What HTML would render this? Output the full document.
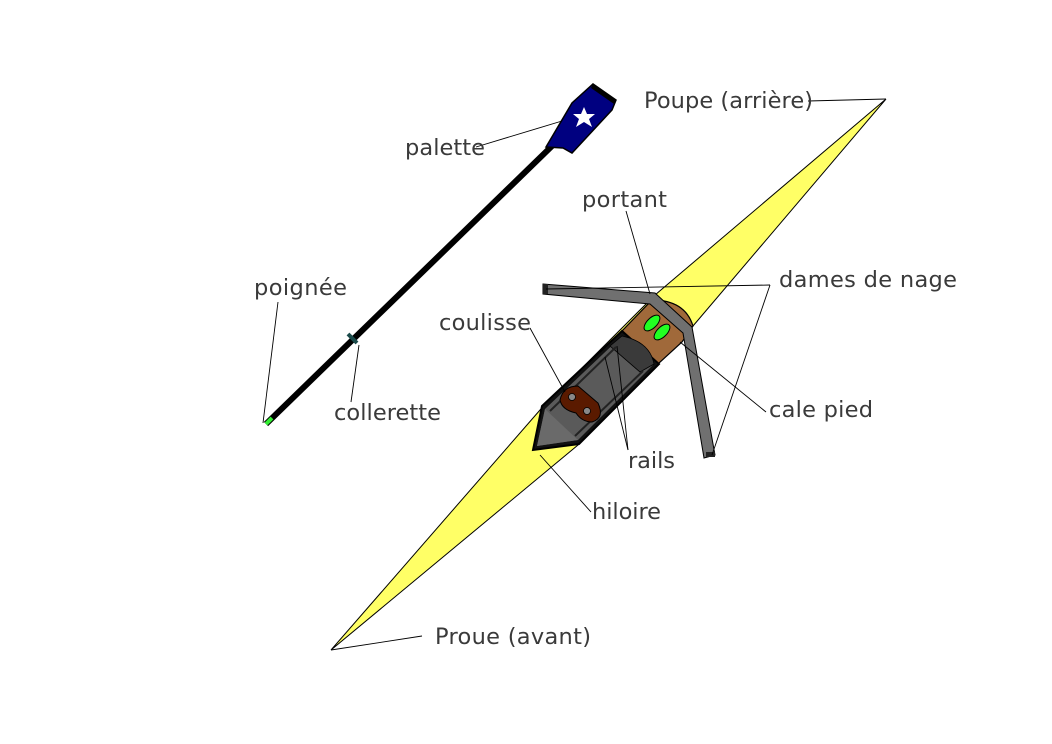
<!DOCTYPE html>
<html><head><meta charset="utf-8"><style>
html,body{margin:0;padding:0;background:#fff;}
svg{display:block}
text{font-family:"DejaVu Sans","Liberation Sans",sans-serif;font-size:22.5px;fill:#3a3a3a}
</style></head><body>
<svg width="1052" height="744" viewBox="0 0 1052 744" xmlns="http://www.w3.org/2000/svg">
<!-- hull -->
<polygon points="886,99 693,326 578,445 331,650 540,410 655,295" fill="#ffff66" stroke="#000" stroke-width="1"/>
<!-- brown deck -->
<path d="M620,333 L652,300 Q685,300 693,326 L682,342 L658,364 Z" fill="#a0693a" stroke="#000" stroke-width="1.2"/>
<!-- cockpit coaming -->
<polygon points="533,450 542,406 622,331 659,364 579,444" fill="#111" stroke="#000" stroke-width="2"/>
<polygon points="537,446 545,409 622,336 654,364 578,440" fill="#5a5a5a"/>
<polygon points="537,446 545,409 578,440" fill="#6a6a6a"/>
<path d="M622,336 Q650,342 654,364 L640,372 L610,346 Z" fill="#3a3a3a" stroke="#000" stroke-width="0.8"/>
<line x1="550" y1="411" x2="616" y2="347" stroke="#222" stroke-width="2"/>
<line x1="575" y1="436" x2="643" y2="371" stroke="#222" stroke-width="2"/>
<!-- seat -->
<path d="M560,400 Q563,386 578,386 L598,403 Q605,418 592,422 Q582,422 576,413 Q562,410 560,400 Z" fill="#5a1a00" stroke="#000" stroke-width="1"/>
<circle cx="572" cy="397" r="3.5" fill="#888" stroke="#000" stroke-width="0.8"/>
<circle cx="587" cy="411" r="3.5" fill="#888" stroke="#000" stroke-width="0.8"/>
<!-- shoes -->
<g transform="rotate(-45 652 323)"><ellipse cx="652" cy="323" rx="10" ry="5" fill="#22ff22" stroke="#000" stroke-width="1"/></g>
<g transform="rotate(-45 662 332)"><ellipse cx="662" cy="332" rx="10" ry="5" fill="#22ff22" stroke="#000" stroke-width="1"/></g>
<!-- rigger -->
<path d="M543,284 L655,293 L692,327 L715,455 L704,458 L683,333 L650,304 L543,294 Z" fill="#707070" stroke="#000" stroke-width="1"/>
<rect x="543" y="284" width="5" height="10" fill="#222"/>
<rect x="706" y="452" width="9" height="5" fill="#222"/>
<!-- oar -->
<line x1="266" y1="424" x2="552" y2="146" stroke="#000" stroke-width="6"/>
<line x1="266" y1="424" x2="272" y2="418" stroke="#33ee33" stroke-width="4"/>
<line x1="348" y1="334" x2="357" y2="343" stroke="#1a4a4a" stroke-width="4"/>
<path d="M546,147 L572,103 L593,84 L616,100 L612,110 L572,153 L563,148 Z" fill="#000080" stroke="#000" stroke-width="1.5"/>
<path d="M593,84 L616,100 L614,104 L591,88 Z" fill="#000"/>
<polygon points="584,107 587,114 595,114 589,119 592,127 584,122 576,127 579,119 573,114 581,114" fill="#fff"/>
<!-- leader lines -->
<g stroke="#000" stroke-width="0.9" fill="none">
<line x1="808" y1="101" x2="886" y2="99"/>
<line x1="476" y1="147" x2="562" y2="121"/>
<line x1="626" y1="211" x2="650" y2="294"/>
<line x1="770" y1="285" x2="546" y2="289"/>
<line x1="770" y1="285" x2="712" y2="455"/>
<line x1="278" y1="302" x2="263" y2="423"/>
<line x1="530" y1="328" x2="565" y2="392"/>
<line x1="351" y1="402" x2="359" y2="345"/>
<line x1="766" y1="412" x2="680" y2="342"/>
<line x1="628" y1="450" x2="617" y2="346"/>
<line x1="628" y1="450" x2="605" y2="357"/>
<line x1="591" y1="512" x2="540" y2="455"/>
<line x1="422" y1="636" x2="331" y2="650"/>
</g>
<!-- labels -->
<text x="644" y="108" textLength="169">Poupe (arrière)</text>
<text x="405" y="155" textLength="80">palette</text>
<text x="582" y="207" textLength="85">portant</text>
<text x="779" y="287" textLength="178">dames de nage</text>
<text x="254" y="295" textLength="93">poignée</text>
<text x="439" y="330" textLength="92">coulisse</text>
<text x="334" y="420" textLength="107">collerette</text>
<text x="769" y="417" textLength="104">cale pied</text>
<text x="628" y="468" textLength="47">rails</text>
<text x="592" y="519" textLength="69">hiloire</text>
<text x="435" y="644" textLength="156">Proue (avant)</text>
</svg>
</body></html>
